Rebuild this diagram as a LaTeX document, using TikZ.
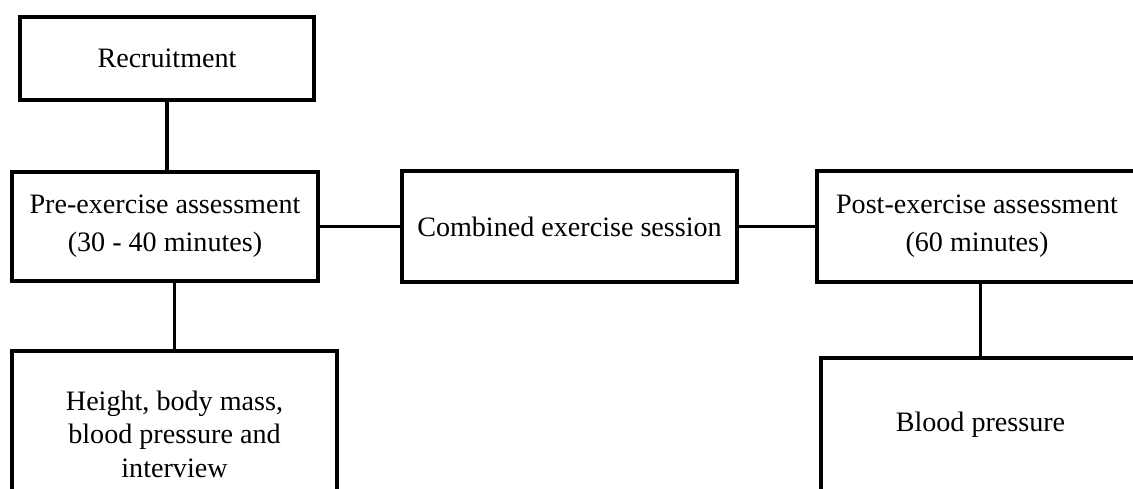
\documentclass[tikz,border=0pt]{standalone}
\usepackage{fontspec}
\setmainfont{Liberation Serif}
\tikzset{
	boite/.style={draw, line width=2.7pt, align=center, inner sep=0pt, font=\fontsize{16}{21.5}\selectfont},
	lien/.style={line width=2.2pt},
}
\begin{document}
\begin{tikzpicture}[x=0.02cm, y=-0.02cm]
	\useasboundingbox (0,0) rectangle (1133,488);
	\clip (0,0) rectangle (1133,488);
	\node[boite, minimum width=5.88cm, minimum height=1.66cm] (recrut) at (167,58.5) {Recruitment};
	\node[boite, minimum width=6.12cm, minimum height=2.18cm] (pre) at (165,226.5) {Pre-exercise assessment\\(30 - 40 minutes)};
	\node[boite, minimum width=6.7cm, minimum height=2.22cm] (seance) at (569.5,226.5) {Combined exercise session};
	\node[boite, minimum width=6.4cm, minimum height=2.22cm] (post) at (977,226.5) {Post-exercise assessment\\(60 minutes)};
	\node[boite, minimum width=6.5cm, minimum height=3.32cm, font=\fontsize{16}{19}\selectfont] (mesures) at (174.5,434) {Height, body mass,\\blood pressure and\\interview};
	\node[boite, minimum width=6.38cm, minimum height=2.68cm] (tension) at (980.5,425) {Blood pressure};
	%liens
	\draw[lien] (recrut.south) -- (recrut.south |- pre.north);
	\draw[lien] (pre.east) -- (seance.west);
	\draw[lien] (seance.east) -- (post.west);
	\draw[lien] (mesures.north) -- (mesures.north |- pre.south);
	\draw[lien] (tension.north) -- (tension.north |- post.south);
\end{tikzpicture}
\end{document}
